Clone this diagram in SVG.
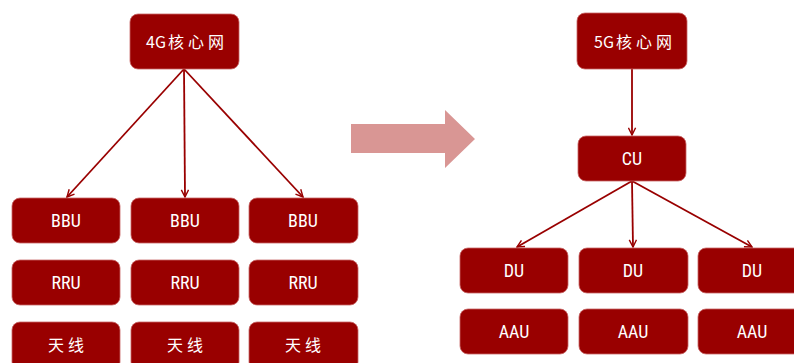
<svg xmlns="http://www.w3.org/2000/svg" width="794" height="363" viewBox="0 0 794 363">
<defs>
<style>
.box{fill:#990000;stroke:#c86464;stroke-width:0.8}
.t{fill:#ffffff;font-family:"Roboto Condensed","Liberation Sans Narrow",Roboto,"Noto Sans CJK SC",sans-serif;font-size:18px;text-anchor:middle;dominant-baseline:central}
.c{fill:#ffffff;font-family:"Noto Sans CJK SC",sans-serif;font-size:16px;text-anchor:middle;dominant-baseline:central}
.sp{letter-spacing:4px}
.ln{stroke:#990000;stroke-width:1.8;fill:none;marker-end:url(#ah)}
</style>
<marker id="ah" viewBox="0 0 10 10" refX="9" refY="5" markerWidth="9" markerHeight="9" orient="auto" markerUnits="userSpaceOnUse">
<polyline points="1,1 9,5 1,9" fill="none" stroke="#990000" stroke-width="1.6"/>
</marker>
</defs>
<g id="connectors">
<line class="ln" x1="184" y1="69" x2="67" y2="197"/>
<line class="ln" x1="184" y1="69" x2="185" y2="197"/>
<line class="ln" x1="184" y1="69" x2="303" y2="197"/>
<line class="ln" x1="632" y1="69" x2="632" y2="135"/>
<line class="ln" x1="632" y1="181" x2="517" y2="247"/>
<line class="ln" x1="632" y1="181" x2="633" y2="247"/>
<line class="ln" x1="632" y1="181" x2="752" y2="247"/>
</g>
<g id="bigarrow">
<polygon points="351,124 445,124 445,110 475,139 445,168 445,153 351,153" fill="#d99694"/>
</g>
<g id="core4g"><rect class="box" x="130" y="14" width="109" height="55" rx="8"/><text class="c" x="185" y="41">4G<tspan dx="2" class="sp">核心</tspan>网</text></g>
<g id="bbu1"><rect class="box" x="12" y="198" width="108" height="45" rx="8"/><text class="t" x="66" y="220">BBU</text></g>
<g id="bbu2"><rect class="box" x="131" y="198" width="108" height="45" rx="8"/><text class="t" x="185" y="220">BBU</text></g>
<g id="bbu3"><rect class="box" x="249" y="198" width="109" height="45" rx="8"/><text class="t" x="303" y="220">BBU</text></g>
<g id="rru1"><rect class="box" x="12" y="260" width="108" height="45" rx="8"/><text class="t" x="66" y="282">RRU</text></g>
<g id="rru2"><rect class="box" x="131" y="260" width="108" height="45" rx="8"/><text class="t" x="185" y="282">RRU</text></g>
<g id="rru3"><rect class="box" x="249" y="260" width="109" height="45" rx="8"/><text class="t" x="303" y="282">RRU</text></g>
<g id="ant1"><rect class="box" x="12" y="322" width="108" height="48" rx="8"/><text class="c sp" x="68" y="344">天线</text></g>
<g id="ant2"><rect class="box" x="131" y="322" width="108" height="48" rx="8"/><text class="c sp" x="187" y="344">天线</text></g>
<g id="ant3"><rect class="box" x="249" y="322" width="109" height="48" rx="8"/><text class="c sp" x="305" y="344">天线</text></g>
<g id="core5g"><rect class="box" x="577" y="13" width="110" height="56" rx="8"/><text class="c" x="633" y="41">5G<tspan dx="2" class="sp">核心</tspan>网</text></g>
<g id="cu"><rect class="box" x="578" y="136" width="108" height="45" rx="8"/><text class="t" x="632" y="158">CU</text></g>
<g id="du1"><rect class="box" x="460" y="248" width="108" height="45" rx="8"/><text class="t" x="514" y="270">DU</text></g>
<g id="du2"><rect class="box" x="579" y="248" width="109" height="45" rx="8"/><text class="t" x="633" y="270">DU</text></g>
<g id="du3"><rect class="box" x="698" y="248" width="108" height="45" rx="8"/><text class="t" x="752" y="270">DU</text></g>
<g id="aau1"><rect class="box" x="460" y="309" width="108" height="45" rx="8"/><text class="t" x="514" y="331">AAU</text></g>
<g id="aau2"><rect class="box" x="579" y="309" width="109" height="45" rx="8"/><text class="t" x="633" y="331">AAU</text></g>
<g id="aau3"><rect class="box" x="698" y="309" width="108" height="45" rx="8"/><text class="t" x="752" y="331">AAU</text></g>
</svg>
